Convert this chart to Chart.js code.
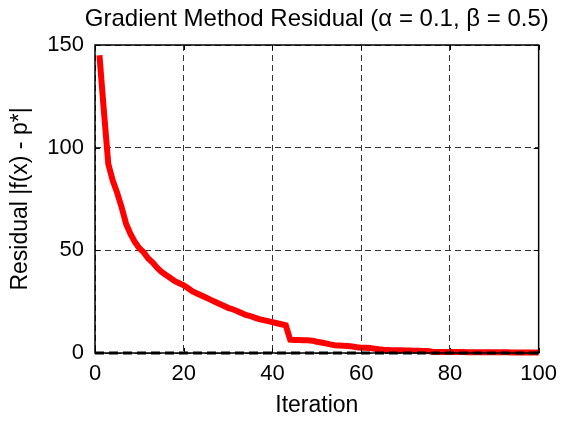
<!DOCTYPE html>
<html>
<head>
<meta charset="utf-8">
<script src="https://cdn.jsdelivr.net/npm/chart.js@4/dist/chart.umd.min.js"></script>
<style>
  html, body { margin: 0; padding: 0; background: #fff; }
  #wrap { width: 565px; height: 421px; }
</style>
</head>
<body>
<div id="wrap"><canvas id="c" width="565" height="421"></canvas></div>
<script>
// Iteration numbers for the residual history
const iterations = [
  1, 2, 3, 4, 5, 6, 7, 8, 9, 10,
  11, 12, 13, 14, 15, 16, 17, 18, 19, 20,
  21, 22, 23, 24, 25, 26, 27, 28, 29, 30,
  31, 32, 33, 34, 35, 36, 37, 38, 39, 40,
  41, 42, 43, 44, 45, 46, 47, 48, 49, 50,
  51, 52, 53, 54, 55, 56, 57, 58, 59, 60,
  61, 62, 63, 64, 65, 66, 67, 68, 69, 70,
  71, 72, 73, 74, 75, 76, 77, 78, 79, 80,
  81, 82, 83, 84, 85, 86, 87, 88, 89, 90,
  91, 92, 93, 94, 95, 96, 97, 98, 99, 100
];

// |f(x) - p*| after each gradient step
const residual = [
  145, 118, 92, 84, 78, 71, 63, 58, 54, 51,
  49, 46, 44, 41.5, 39.5, 38, 36.5, 35, 34, 33,
  31.5, 30, 29, 28, 27, 26, 25, 24, 23, 22,
  21.3, 20.5, 19.5, 18.5, 18, 17.2, 16.5, 16, 15.5, 15,
  14.5, 14, 13.5, 6.5, 6.3, 6.3, 6.2, 6.2, 6.0, 5.5,
  5.1, 4.7, 4.2, 3.8, 3.7, 3.5, 3.4, 3.2, 2.8, 2.6,
  2.5, 2.4, 2.1, 1.8, 1.6, 1.5, 1.4, 1.3, 1.3, 1.2,
  1.2, 1.1, 1.1, 1.0, 1.0, 0.6, 0.5, 0.5, 0.5, 0.5,
  0.45, 0.45, 0.45, 0.4, 0.4, 0.4, 0.4, 0.4, 0.35, 0.35,
  0.35, 0.35, 0.35, 0.3, 0.3, 0.3, 0.3, 0.3, 0.3, 0.3
];

// Zero reference line (p* level)
const baselineX = [0, 100];
const baselineY = [0, 0];

// Axis ticks
const xTicks = [0, 20, 40, 60, 80, 100];
const yTicks = [0, 50, 100, 150];

const TITLE = 'Gradient Method Residual (\u03B1 = 0.1, \u03B2 = 0.5)';
const FONT = "'Liberation Sans', Arial, Helvetica, sans-serif";

const residualPoints = iterations.map((it, i) => ({ x: it, y: residual[i] }));
const baselinePoints = baselineX.map((x, i) => ({ x: x, y: baselineY[i] }));

// Axes box with inward tick marks on all four sides
const boxPlugin = {
  id: 'axesBox',
  afterDatasetsDraw(chart) {
    const { ctx, chartArea: a, scales } = chart;
    const len = 5;
    ctx.save();
    ctx.strokeStyle = '#000';
    ctx.lineWidth = 1;
    ctx.beginPath();
    xTicks.forEach(v => {
      const px = Math.round(scales.x.getPixelForValue(v)) + 0.5;
      ctx.moveTo(px, a.bottom); ctx.lineTo(px, a.bottom - len);
      ctx.moveTo(px, a.top); ctx.lineTo(px, a.top + len);
    });
    yTicks.forEach(v => {
      const py = Math.round(scales.y.getPixelForValue(v)) + 0.5;
      ctx.moveTo(a.left, py); ctx.lineTo(a.left + len, py);
      ctx.moveTo(a.right, py); ctx.lineTo(a.right - len, py);
    });
    ctx.stroke();
    ctx.lineWidth = 1.5;
    ctx.strokeRect(a.left, a.top, a.right - a.left, a.bottom - a.top);
    ctx.restore();
  }
};

// Title centred over the plot area (not the whole canvas), at its natural width
const axesTitlePlugin = {
  id: 'axesTitle',
  afterDraw(chart) {
    const { ctx, chartArea: a } = chart;
    ctx.save();
    ctx.fillStyle = '#000';
    ctx.font = '24px ' + FONT;
    ctx.textAlign = 'center';
    ctx.textBaseline = 'alphabetic';
    ctx.fillText(TITLE, (a.left + a.right) / 2, 26);
    ctx.restore();
  }
};

new Chart(document.getElementById('c'), {
  type: 'line',
  data: {
    datasets: [
      {
        label: 'p*',
        data: baselinePoints,
        borderColor: '#000',
        borderWidth: 3,
        borderDash: [9, 5],
        pointRadius: 0,
        fill: false,
        clip: false,
        order: 0
      },
      {
        label: 'Residual',
        data: residualPoints,
        borderColor: '#ff0000',
        borderWidth: 6,
        pointRadius: 0,
        tension: 0,
        fill: false,
        clip: false,
        order: 1
      }
    ]
  },
  options: {
    responsive: false,
    animation: false,
    events: [],
    layout: { padding: { left: 0, right: 24, top: 45, bottom: 0 } },
    plugins: {
      legend: { display: false },
      tooltip: { enabled: false },
      title: { display: false }
    },
    scales: {
      x: {
        type: 'linear',
        min: 0,
        max: 100,
        afterBuildTicks(scale) { scale.ticks = xTicks.map(v => ({ value: v })); },
        afterFit(scale) { scale.height = 68; },
        grid: { color: '#333', lineWidth: 1, drawTicks: false },
        border: { display: false, dash: [6, 4] },
        ticks: {
          color: '#000',
          padding: 8,
          maxRotation: 0,
          font: { family: FONT, size: 22 }
        },
        title: {
          display: true,
          text: 'Iteration',
          color: '#000',
          font: { family: FONT, size: 23 },
          padding: { top: 0, bottom: 2 }
        }
      },
      y: {
        type: 'linear',
        min: 0,
        max: 150,
        afterBuildTicks(scale) { scale.ticks = yTicks.map(v => ({ value: v })); },
        afterFit(scale) { scale.width = 95; },
        grid: { color: '#333', lineWidth: 1, drawTicks: false },
        border: { display: false, dash: [6, 4] },
        ticks: {
          color: '#000',
          padding: 11,
          font: { family: FONT, size: 22 }
        },
        title: {
          display: true,
          text: 'Residual |f(x) - p*|',
          color: '#000',
          font: { family: FONT, size: 23 },
          padding: { top: 7, bottom: 7 }
        }
      }
    }
  },
  plugins: [boxPlugin, axesTitlePlugin]
});
</script>
</body>
</html>
